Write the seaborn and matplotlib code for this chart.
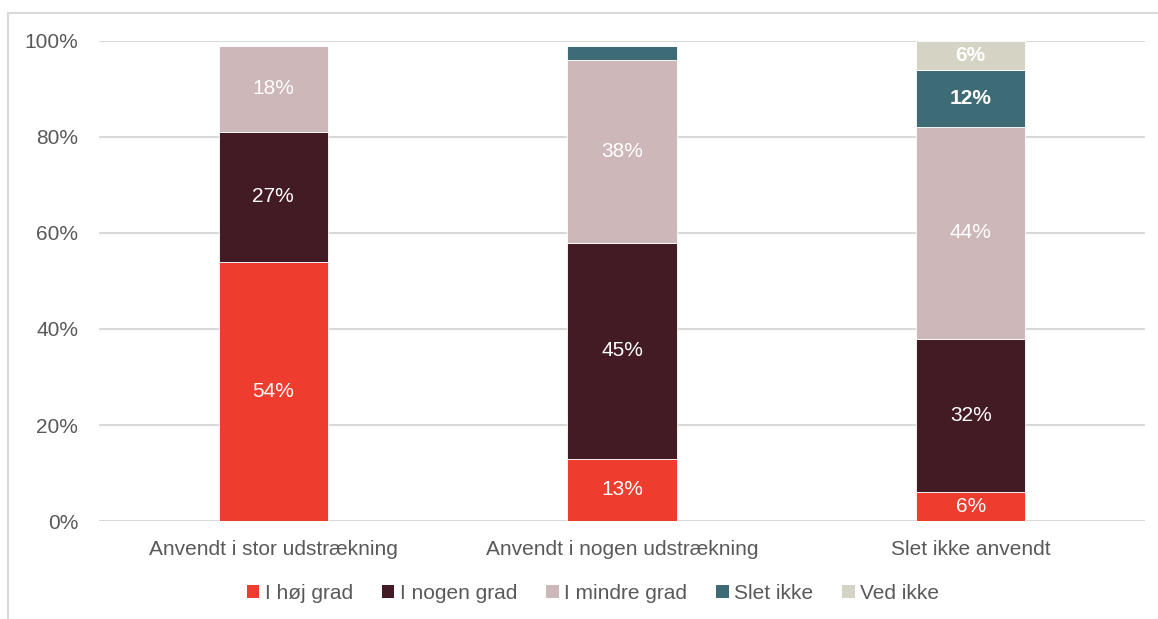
import matplotlib
matplotlib.use("Agg")
import matplotlib.pyplot as plt
from matplotlib.patches import Patch
from matplotlib.lines import Line2D
import seaborn as sns
import pandas as pd

# Survey answers per usage group (percent of respondents)
categories = ["Anvendt i stor udstrækning", "Anvendt i nogen udstrækning", "Slet ikke anvendt"]
series_names = ["I høj grad", "I nogen grad", "I mindre grad", "Slet ikke", "Ved ikke"]
hoej_grad = [54, 13, 6]
nogen_grad = [27, 45, 32]
mindre_grad = [18, 38, 44]
slet_ikke = [0, 3, 12]
ved_ikke = [0, 0, 6]
colors = ["#EE3D2F", "#431B25", "#CEB7B9", "#3E6C76", "#D4D3C4"]
ytick_values = [0, 20, 40, 60, 80, 100]
ytick_labels = ["0%", "20%", "40%", "60%", "80%", "100%"]

series_values = [hoej_grad, nogen_grad, mindre_grad, slet_ikke, ved_ikke]
df = pd.DataFrame({"kategori": categories})
for name, vals in zip(series_names, series_values):
    df[name] = vals

sns.set_theme(style="white")
plt.rcParams["font.family"] = ["Liberation Sans", "DejaVu Sans"]
text_color = "#595959"

fig = plt.figure(figsize=(11.58, 6.19), dpi=100)
ax = fig.add_axes([0.0855, 0.1583, 0.9033, 0.7755])

bottom = [0.0] * len(categories)
for name, color in zip(series_names, colors):
    sns.barplot(data=df, x="kategori", y=name, color=color, width=0.313,
                bottom=bottom, edgecolor="white", linewidth=0.6, ax=ax,
                saturation=1)
    vals = df[name].tolist()
    for i, v in enumerate(vals):
        show = v > 0 and not (name == "Slet ikke" and i == 1)
        if show:
            bold = (i == 2 and name in ("Slet ikke", "Ved ikke"))
            ax.text(i, bottom[i] + v / 2, f"{v}%", ha="center", va="center",
                    color="white", fontsize=15,
                    fontweight="bold" if bold else "normal")
    bottom = [b + v for b, v in zip(bottom, vals)]

ax.set_ylim(0, 100)
ax.set_xlim(-0.5, 2.5)
ax.set_yticks(ytick_values)
ax.set_yticklabels(ytick_labels)
ax.set_xlabel("")
ax.set_ylabel("")
ax.set_axisbelow(True)
ax.yaxis.grid(True, color="#D9D9D9", linewidth=1.5)
for s in ax.spines.values():
    s.set_visible(False)
ax.tick_params(axis="both", length=0, labelsize=15, labelcolor=text_color)
ax.tick_params(axis="y", pad=15)
ax.tick_params(axis="x", pad=14)

handles = [Patch(facecolor=c, edgecolor="none") for c in colors]
fig.legend(handles, series_names, loc="center", bbox_to_anchor=(0.512, 0.042),
           ncol=5, frameon=False, fontsize=15, labelcolor=text_color,
           handlelength=0.6, handleheight=0.6, handletextpad=0.25,
           columnspacing=1.4)

# light outer frame (top and left edges)
fig.add_artist(Line2D([0.0069, 1.0], [0.979, 0.979], transform=fig.transFigure,
                      color="#D9D9D9", linewidth=1.5))
fig.add_artist(Line2D([0.0069, 0.0069], [0.0, 0.979], transform=fig.transFigure,
                      color="#D9D9D9", linewidth=1.5))

fig.savefig("out.png", dpi=100)
